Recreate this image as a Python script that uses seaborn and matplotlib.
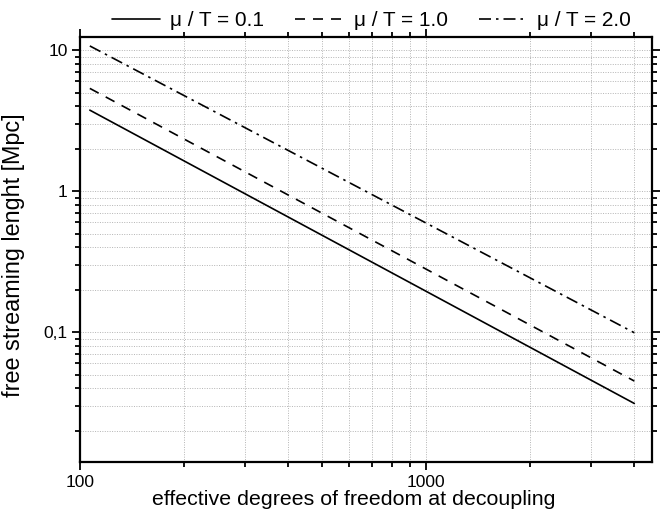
import matplotlib
matplotlib.use("Agg")
import matplotlib.pyplot as plt
import matplotlib.ticker as mticker
import numpy as np
import pandas as pd
import seaborn as sns

# Data (straight lines on log-log axes)
g_eff = [106.75, 4000]
L_mu01 = [3.75, 0.0312]
L_mu10 = [5.35, 0.045]
L_mu20 = [10.7, 0.099]
series_labels = ["μ / T = 0.1", "μ / T = 1.0", "μ / T = 2.0"]

df = pd.DataFrame({
    "g": g_eff * 3,
    "L": L_mu01 + L_mu10 + L_mu20,
    "series": [series_labels[0]] * 2 + [series_labels[1]] * 2 + [series_labels[2]] * 2,
})

sns.set_theme(style="ticks")
plt.rcParams["font.family"] = ["Liberation Sans", "DejaVu Sans"]
plt.rcParams["text.color"] = "black"
plt.rcParams["axes.labelcolor"] = "black"
plt.rcParams["xtick.color"] = "black"
plt.rcParams["ytick.color"] = "black"

fig = plt.figure(figsize=(6.69, 5.14), dpi=100)
ax = fig.add_axes([0.1196, 0.1012, 0.855, 0.827])

dashes = {
    series_labels[0]: "",
    series_labels[1]: (6.0, 4.8),
    series_labels[2]: (7.2, 3.0, 1.5, 3.0),
}
sns.lineplot(data=df, x="g", y="L", style="series", dashes=dashes,
             color="black", linewidth=1.2, ax=ax, legend=True,
             style_order=series_labels)

ax.set_xscale("log")
ax.set_yscale("log")
ax.set_xlim(100, 4500)
ax.set_ylim(0.012, 12.4)

ax.xaxis.set_major_locator(mticker.FixedLocator([100, 1000]))
ax.xaxis.set_major_formatter(mticker.FixedFormatter(["100", "1000"]))
ax.xaxis.set_minor_locator(mticker.LogLocator(base=10, subs=np.arange(2, 10)))
ax.xaxis.set_minor_formatter(mticker.NullFormatter())
ax.yaxis.set_major_locator(mticker.FixedLocator([0.1, 1, 10]))
ax.yaxis.set_major_formatter(mticker.FixedFormatter(["0,1", "1", "10"]))
ax.yaxis.set_minor_locator(mticker.LogLocator(base=10, subs=np.arange(2, 10)))
ax.yaxis.set_minor_formatter(mticker.NullFormatter())

ax.grid(True, which="both", linestyle=(0, (1, 1.5)), color="#b4b4b4", linewidth=0.7)
for s in ax.spines.values():
    s.set_visible(True)
    s.set_linewidth(1.6)
    s.set_color("black")
ax.tick_params(which="both", direction="out", top=True, right=True,
               color="black", width=1.3, labelsize=12.5, labelcolor="black")
ax.tick_params(which="major", length=5.5)
ax.tick_params(which="minor", length=3.5)
ax.tick_params(axis="x", which="major", pad=4)

ax.set_xlabel("effective degrees of freedom at decoupling", fontsize=15.4, color="black")
ax.set_ylabel("free streaming lenght [Mpc]", fontsize=16.8, color="black")
ax.xaxis.set_label_coords(0.479, -0.066)
ax.yaxis.set_label_coords(-0.096, 0.487)

handles, labels = ax.get_legend_handles_labels()
ax.get_legend().remove()
fig.legend(handles, labels, loc="center", bbox_to_anchor=(0.555, 0.960), ncol=3,
           frameon=False, fontsize=15, handlelength=2.3, columnspacing=1.5,
           handletextpad=0.5, labelcolor="black")

fig.savefig("out.png", dpi=100)
